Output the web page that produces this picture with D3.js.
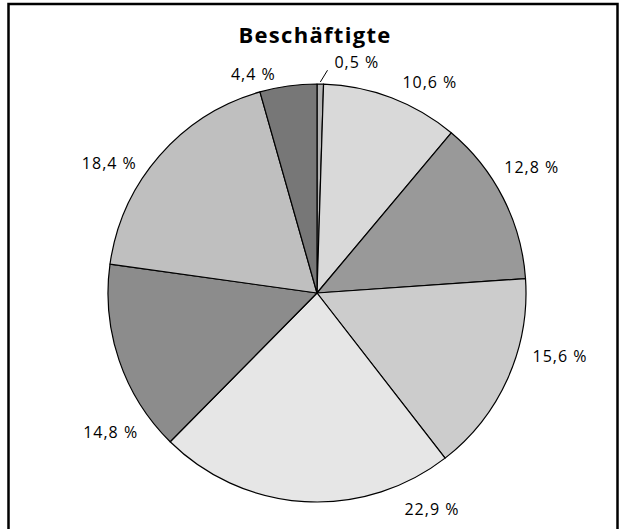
<!DOCTYPE html>
<html>
<head>
<meta charset="utf-8">
<script src="https://cdn.jsdelivr.net/npm/d3@7"></script>
<style>
  body { margin: 0; background: #fff; }
  svg { display: block; }
  text { font-family: "Open Sans", "Noto Sans", sans-serif; fill: #000; }
</style>
</head>
<body>
<svg width="619" height="529"></svg>
<script>
const title = "Beschäftigte";
const shares = [0.5, 10.6, 12.8, 15.6, 22.9, 14.8, 18.4, 4.4];
const labels = ["0,5 %", "10,6 %", "12,8 %", "15,6 %", "22,9 %", "14,8 %", "18,4 %", "4,4 %"];
const colors = ["#b4b4b4", "#d9d9d9", "#999999", "#cccccc", "#e6e6e6", "#8c8c8c", "#bfbfbf", "#777777"];

// label placement tweaks (degrees off the slice middle, distance from centre)
const labelTurn = [8.9, 7.3, -3.4, -9.6, -31.4, -15.3, -9, -8.3];
const labelDist = [234, 239, 249, 251, 245, 249, 245, 228];

const svg = d3.select("svg");
const cx = 317, cy = 293, r = 209;

svg.append("rect")
    .attr("x", 8.5).attr("y", 4)
    .attr("width", 609).attr("height", 560)
    .attr("fill", "none")
    .attr("stroke", "#000")
    .attr("stroke-width", 2.5);

svg.append("text")
    .attr("x", 315).attr("y", 43)
    .attr("text-anchor", "middle")
    .style("font-size", "22px")
    .style("font-weight", "bold")
    .style("letter-spacing", "1.3px")
    .text(title);

const pie = d3.pie().sort(null).value(d => d);
const arc = d3.arc().innerRadius(0).outerRadius(r);
const arcs = pie(shares);

const g = svg.append("g").attr("transform", `translate(${cx},${cy})`);

g.selectAll("path").data(arcs)
  .enter().append("path")
    .attr("d", arc)
    .attr("fill", (d, i) => colors[i])
    .attr("stroke", "#000")
    .attr("stroke-width", 1.2)
    .attr("stroke-linejoin", "round");

const polar = (a, dist) => [Math.sin(a) * dist, -Math.cos(a) * dist];
const mid = d => (d.startAngle + d.endAngle) / 2;
const rad = Math.PI / 180;

// leader for the tiny slice
const a0 = mid(arcs[0]);
const p1 = polar(a0, r + 2), p2 = polar(a0 + 1.8 * rad, r + 14);
g.append("line")
    .attr("x1", p1[0]).attr("y1", p1[1])
    .attr("x2", p2[0]).attr("y2", p2[1])
    .attr("stroke", "#000").attr("stroke-width", 1);

g.selectAll("text.lbl").data(arcs)
  .enter().append("text")
    .attr("class", "lbl")
    .attr("transform", (d, i) => {
        const p = polar(mid(d) + labelTurn[i] * rad, labelDist[i]);
        return `translate(${p[0]},${p[1]})`;
    })
    .attr("text-anchor", "middle")
    .attr("dy", "0.35em")
    .style("font-size", "16px")
    .style("letter-spacing", "1px")
    .text((d, i) => labels[i]);
</script>
</body>
</html>
